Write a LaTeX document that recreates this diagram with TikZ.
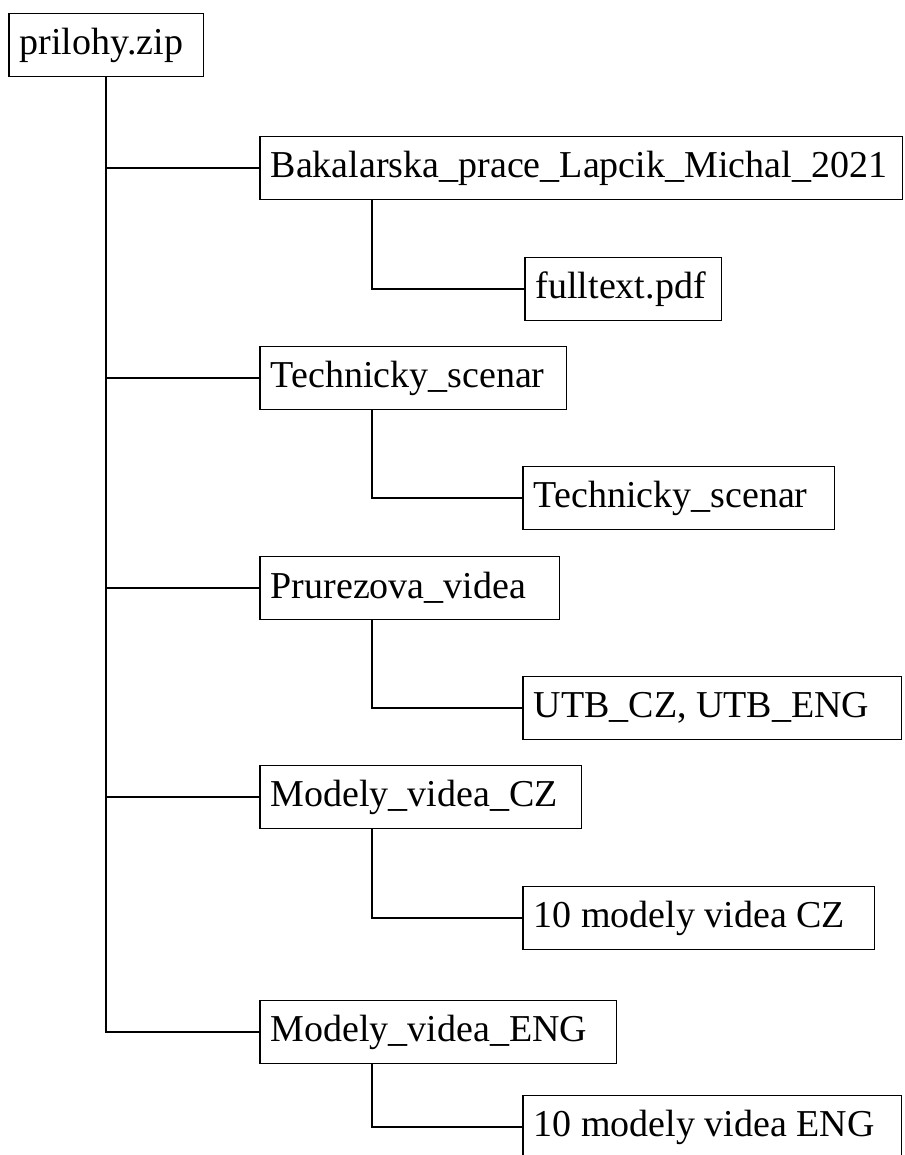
\documentclass[tikz,border=0pt]{standalone}
\usepackage{fontspec}
\setmainfont{Liberation Serif}
\usetikzlibrary{positioning}

\begin{document}
\begin{tikzpicture}[
    x=1pt, y=-1pt,
    mybox/.style={rectangle, draw, line width=1.5pt, anchor=west,
        inner xsep=11pt, minimum height=63pt, align=flush left, text width=#1,
        font=\fontsize{38}{40}\selectfont},
    myline/.style={line width=1.5pt}]

    \useasboundingbox (0,0) rectangle (904,1155);

    \node[mybox=172.5pt] (zip) at (8,45) {prilohy.zip};

    \node[mybox=620.5pt] (bakalarska) at (259,168) {Bakalarska\_prace\_Lapcik\_Michal\_2021};
    \node[mybox=174.5pt] (fulltext) at (524,289) {fulltext.pdf};

    \node[mybox=284.5pt] (technicky) at (259,378) {Technicky\_scenar};
    \node[mybox=289.5pt] (technicky2) at (522,498) {Technicky\_scenar};

    \node[mybox=277.5pt] (prurezova) at (259,588) {Prurezova\_videa};
    \node[mybox=356.5pt] (utb) at (522,708) {UTB\_CZ, UTB\_ENG};

    \node[mybox=299.5pt] (modelycz) at (259,797) {Modely\_videa\_CZ};
    \node[mybox=329.5pt] (modelycz2) at (522,918) {10 modely videa CZ};

    \node[mybox=334.5pt] (modelyeng) at (259,1032) {Modely\_videa\_ENG};
    \node[mybox=356.5pt] (modelyeng2) at (522,1127) {10 modely videa ENG};

    \draw[myline] (zip.south) |- (bakalarska.west);
    \draw[myline] (zip.south) |- (technicky.west);
    \draw[myline] (zip.south) |- (prurezova.west);
    \draw[myline] (zip.south) |- (modelycz.west);
    \draw[myline] (zip.south) |- (modelyeng.west);

    \draw[myline] ([xshift=113pt]bakalarska.south west) |- (fulltext.west);
    \draw[myline] ([xshift=113pt]technicky.south west) |- (technicky2.west);
    \draw[myline] ([xshift=113pt]prurezova.south west) |- (utb.west);
    \draw[myline] ([xshift=113pt]modelycz.south west) |- (modelycz2.west);
    \draw[myline] ([xshift=113pt]modelyeng.south west) |- (modelyeng2.west);

\end{tikzpicture}
\end{document}
